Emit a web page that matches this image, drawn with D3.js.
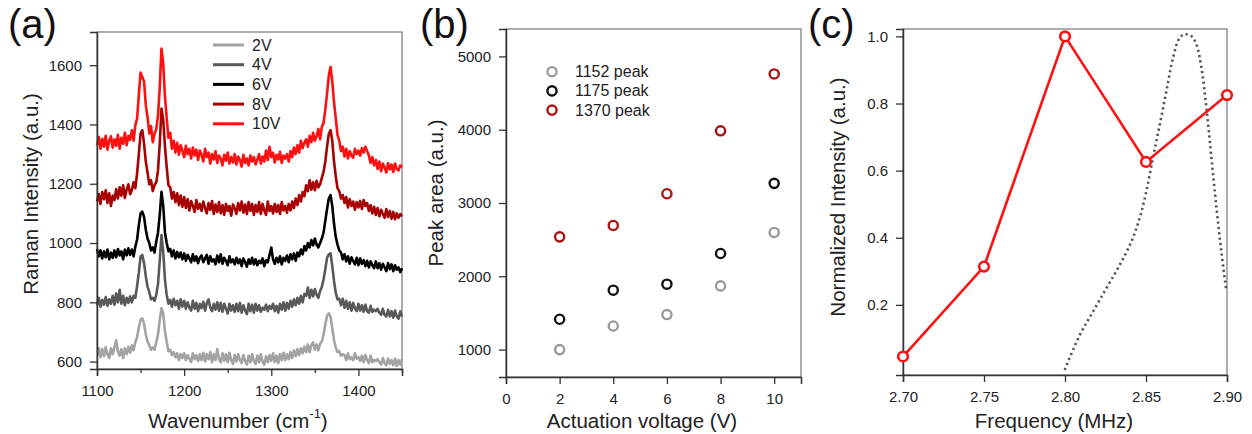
<!DOCTYPE html>
<html>
<head>
<meta charset="utf-8">
<script src="https://cdn.jsdelivr.net/npm/d3@7"></script>
<style>
  html, body { margin: 0; padding: 0; background: #fff; }
  svg { display: block; font-family: "Liberation Sans", Arial, sans-serif; }
</style>
</head>
<body>
<svg id="chart" width="1252" height="434"></svg>
<script>
// ---------------- DATA ----------------
// (a) Raman spectra, wavenumber grid 1100..1450 cm-1, step 2
const wavenumbers = d3.range(1100, 1451, 2);
const spectrumLabels = ["2V", "4V", "6V", "8V", "10V"];
const s2V = [
 620,645,615,642,618,648,625,612,645,625,
 648,672,635,620,642,612,645,625,650,630,
 655,638,665,682,715,742,746,728,692,668,
 655,640,648,640,665,692,740,780,762,702,
 665,635,640,622,632,615,628,605,625,612,
 628,605,622,610,598,628,608,622,602,625,
 605,630,600,625,608,632,598,625,605,642,
 608,598,628,602,625,598,630,605,592,622,
 600,625,605,595,622,602,590,620,598,625,
 602,592,620,598,625,600,590,618,598,622,
 602,628,598,620,595,625,605,630,605,625,
 608,632,612,638,618,642,622,645,628,650,
 632,658,632,655,665,640,658,638,660,668,
 692,725,755,763,752,712,672,648,632,635,
 620,625,622,605,628,608,615,605,628,610,
 615,602,620,598,622,605,595,620,598,605,
 602,608,598,590,612,595,588,610,592,605,
 588,610,585,605,590,608];
const s4V = [
 790,815,785,808,792,818,788,810,795,822,
 792,830,800,842,795,822,790,815,798,820,
 800,822,815,855,900,955,960,932,888,852,
 835,810,815,805,825,862,940,1027,972,875,
 825,795,808,785,812,790,805,778,810,785,
 805,778,800,782,772,805,778,798,770,795,
 780,802,772,798,810,782,770,795,775,800,
 772,798,768,795,778,762,795,772,790,768,
 795,770,798,765,790,772,760,795,770,792,
 765,795,772,790,768,782,775,792,770,788,
 778,795,770,788,765,795,775,800,772,798,
 778,805,785,810,790,815,795,822,800,828,
 822,850,815,842,820,845,825,815,838,852,
 878,912,950,962,965,922,872,832,810,812,
 790,812,782,805,778,800,772,798,780,770,
 795,772,790,768,792,770,765,788,768,775,
 770,778,765,758,778,758,752,775,752,770,
 748,772,752,745,770,752];
const s6V = [
 980,955,975,948,972,952,978,945,968,950,
 975,952,980,958,972,945,978,958,982,960,
 978,955,988,1012,1060,1100,1106,1088,1045,1015,
 1000,975,985,968,1005,1035,1095,1173,1125,1035,
 1000,972,980,955,975,948,970,952,968,945,
 965,940,960,948,935,962,940,955,932,950,
 958,935,948,960,930,955,938,945,928,958,
 935,962,930,950,940,925,955,935,945,928,
 950,932,945,922,948,935,920,945,930,950,
 928,945,925,940,932,948,922,942,935,960,
 985,945,930,950,935,955,928,950,940,958,
 935,962,945,965,940,968,955,978,962,990,
 975,1000,985,1010,992,1015,995,985,1000,1015,
 1035,1075,1115,1150,1162,1125,1065,1020,995,975,
 968,945,962,938,955,930,952,940,928,950,
 925,948,930,942,922,940,918,938,925,915,
 938,915,932,910,930,918,905,932,912,928,
 905,925,910,918,902,915];
const s8V = [
 1140,1165,1132,1172,1148,1178,1135,1168,1125,1160,
 1145,1182,1150,1188,1160,1195,1152,1180,1198,1165,
 1178,1205,1185,1235,1300,1370,1381,1335,1275,1238,
 1198,1212,1175,1195,1205,1245,1335,1454,1415,1325,
 1255,1195,1188,1150,1172,1138,1168,1128,1160,1122,
 1155,1118,1148,1110,1142,1125,1105,1145,1115,1132,
 1108,1140,1118,1100,1135,1112,1142,1098,1130,1105,
 1138,1100,1128,1095,1132,1108,1125,1092,1130,1118,
 1098,1135,1110,1140,1102,1130,1098,1138,1108,1132,
 1095,1128,1105,1138,1098,1132,1110,1095,1140,1108,
 1125,1100,1132,1105,1128,1098,1138,1110,1125,1102,
 1132,1110,1140,1118,1150,1128,1162,1140,1172,1158,
 1195,1175,1212,1180,1205,1178,1210,1188,1198,1220,
 1240,1275,1325,1368,1381,1345,1275,1225,1185,1175,
 1150,1162,1135,1155,1120,1148,1125,1140,1112,1138,
 1120,1142,1115,1145,1125,1135,1108,1128,1100,1122,
 1095,1118,1090,1112,1098,1085,1115,1088,1108,1082,
 1105,1080,1100,1085,1098,1090];
const s10V = [
 1330,1358,1318,1352,1325,1362,1315,1345,1360,1322,
 1350,1328,1365,1318,1355,1335,1372,1330,1362,1348,
 1380,1345,1398,1420,1500,1575,1560,1545,1465,1425,
 1370,1395,1340,1368,1385,1430,1525,1656,1605,1495,
 1420,1355,1372,1318,1345,1305,1338,1298,1330,1312,
 1290,1328,1300,1318,1285,1322,1295,1315,1280,1312,
 1298,1275,1318,1290,1305,1268,1300,1282,1310,1270,
 1295,1285,1262,1298,1278,1305,1268,1290,1272,1300,
 1265,1292,1280,1258,1298,1270,1285,1262,1295,1275,
 1290,1265,1282,1300,1268,1292,1275,1312,1280,1325,
 1290,1305,1272,1298,1282,1308,1270,1295,1285,1300,
 1275,1310,1290,1322,1300,1330,1305,1345,1320,1338,
 1350,1325,1362,1340,1372,1345,1360,1385,1350,1392,
 1405,1450,1505,1565,1594,1545,1475,1420,1365,1345,
 1310,1325,1292,1318,1285,1310,1295,1288,1318,1300,
 1312,1295,1320,1305,1325,1310,1295,1270,1290,1262,
 1280,1250,1275,1242,1268,1255,1238,1270,1248,1265,
 1240,1268,1250,1245,1262,1255];
const aXTicks = [1100, 1200, 1300, 1400];
const aXMinor = [1150, 1250, 1350, 1450];
const aYTicks = [600, 800, 1000, 1200, 1400, 1600];

// (b) Peak areas vs actuation voltage
const voltages = [2, 4, 6, 8, 10];
const peak1152 = [1000, 1322, 1478, 1869, 2598];
const peak1175 = [1414, 1810, 1892, 2311, 3268];
const peak1370 = [2538, 2694, 3126, 3985, 4761];
const peakLabels = ["1152 peak", "1175 peak", "1370 peak"];
const bXTicks = [0, 2, 4, 6, 8, 10];
const bYTicks = [1000, 2000, 3000, 4000, 5000];

// (c) Normalized intensity vs frequency
const frequencies = [2.70, 2.75, 2.80, 2.85, 2.90];
const normIntensity = [0.046, 0.314, 1.0, 0.626, 0.825];
const respFreq = [2.7998, 2.8091, 2.8173, 2.8256, 2.8338, 2.8410, 2.8461, 2.8502, 2.8543, 2.8585,
                  2.8626, 2.8667, 2.8708, 2.8739, 2.8780, 2.8811, 2.8842, 2.8873, 2.8904, 2.8935, 2.8965, 2.8996];
const respValue = [0.006, 0.110, 0.180, 0.250, 0.319, 0.389, 0.459, 0.538, 0.638, 0.737,
                   0.837, 0.936, 0.996, 1.006, 1.001, 0.976, 0.907, 0.787, 0.638, 0.489, 0.359, 0.240];
const cXTicks = [2.70, 2.75, 2.80, 2.85, 2.90];
const cYTicks = [0.2, 0.4, 0.6, 0.8, 1.0];

// ---------------- STYLE ----------------
const spectrumColors = ["#a3a3a3", "#595959", "#000000", "#a80000", "#ff1010"];
const peakColors = ["#9a9a9a", "#111111", "#a81414"];
const axisColor = "#333";
const frameColor = "#777";
const textColor = "#222";

const svg = d3.select("#chart");

function styleAxis(g) {
  g.selectAll("path.domain").attr("stroke", axisColor).attr("stroke-width", 1.5);
  g.selectAll(".tick line").attr("stroke", axisColor).attr("stroke-width", 1.3);
  g.selectAll(".tick text").attr("fill", textColor).style("font-size", "15px")
    .style("font-family", '"Liberation Sans", Arial, sans-serif');
}

function frame(x0, y0, x1, y1) {
  svg.append("rect").attr("x", x0).attr("y", y0).attr("width", x1 - x0).attr("height", y1 - y0)
    .attr("fill", "none").attr("stroke", frameColor).attr("stroke-width", 1.2);
}

function panelLabel(txt, x) {
  svg.append("text").attr("x", x).attr("y", 38).attr("fill", "#111")
    .style("font-size", "40px").text(txt);
}

// ---------------- PANEL (a) ----------------
{
  const L = 97, R = 402, T = 32, B = 369;
  const x = d3.scaleLinear().domain([1100, 1450]).range([L, R]);
  const y = d3.scaleLinear().domain([575, 1712]).range([B, T]);
  frame(L, T, R, B);
  const series = [s2V, s4V, s6V, s8V, s10V];
  const line = d3.line().x((d, i) => x(wavenumbers[i])).y(d => y(d));
  series.forEach((s, k) => {
    svg.append("path").datum(s).attr("d", line).attr("fill", "none")
      .attr("stroke", spectrumColors[k]).attr("stroke-width", 2.6).attr("stroke-linejoin", "round");
  });
  const gx = svg.append("g").attr("transform", `translate(0,${B})`)
    .call(d3.axisBottom(x).tickValues(aXTicks).tickFormat(d3.format("d")).tickSize(7).tickPadding(9));
  styleAxis(gx);
  svg.append("g").attr("transform", `translate(0,${B})`)
    .call(d3.axisBottom(x).tickValues(aXMinor).tickFormat("").tickSize(4))
    .call(g => { g.select(".domain").remove(); g.selectAll("line").attr("stroke", axisColor).attr("stroke-width", 1.3); });
  const gy = svg.append("g").attr("transform", `translate(${L},0)`)
    .call(d3.axisLeft(y).tickValues(aYTicks).tickFormat(d3.format("d")).tickSize(7).tickPadding(8));
  styleAxis(gy);

  // legend
  spectrumLabels.forEach((lab, k) => {
    const yy = 45 + k * 19.7;
    svg.append("line").attr("x1", 213).attr("x2", 244).attr("y1", yy).attr("y2", yy)
      .attr("stroke", spectrumColors[k]).attr("stroke-width", 3);
    svg.append("text").attr("x", 252).attr("y", yy + 5.5).attr("fill", textColor)
      .style("font-size", "16px").text(lab);
  });

  svg.append("text").attr("transform", `translate(38,194) rotate(-90)`).attr("text-anchor", "middle")
    .attr("fill", textColor).style("font-size", "20.5px").text("Raman Intensity (a.u.)");
  const xt = svg.append("text").attr("x", 238).attr("y", 428).attr("text-anchor", "middle")
    .attr("fill", textColor).style("font-size", "20.5px");
  xt.append("tspan").text("Wavenumber (cm");
  xt.append("tspan").attr("dy", -10).style("font-size", "13px").text("-1");
  xt.append("tspan").attr("dy", 10).text(")");
  panelLabel("(a)", 8);
}

// ---------------- PANEL (b) ----------------
{
  const L = 506, R = 801, T = 29, B = 377;
  const x = d3.scaleLinear().domain([0, 11]).range([L, R]);
  const y = d3.scaleLinear().domain([626, 5374]).range([B, T]);
  frame(L, T, R, B);
  const gx = svg.append("g").attr("transform", `translate(0,${B})`)
    .call(d3.axisBottom(x).tickValues(bXTicks).tickFormat(d3.format("d")).tickSize(7).tickPadding(9));
  styleAxis(gx);
  const gy = svg.append("g").attr("transform", `translate(${L},0)`)
    .call(d3.axisLeft(y).tickValues(bYTicks).tickFormat(d3.format("d")).tickSize(7).tickPadding(8));
  styleAxis(gy);
  const sets = [peak1152, peak1175, peak1370];
  sets.forEach((vals, k) => {
    svg.append("g").selectAll("circle").data(vals).join("circle")
      .attr("cx", (d, i) => x(voltages[i])).attr("cy", d => y(d)).attr("r", 4.6)
      .attr("fill", "#fff").attr("stroke", peakColors[k]).attr("stroke-width", 2.4);
  });
  peakLabels.forEach((lab, k) => {
    const yy = 71.7 + k * 19.2;
    svg.append("circle").attr("cx", 552).attr("cy", yy).attr("r", 4.6)
      .attr("fill", "#fff").attr("stroke", peakColors[k]).attr("stroke-width", 2.4);
    svg.append("text").attr("x", 575).attr("y", yy + 5.5).attr("fill", textColor)
      .style("font-size", "16px").text(lab);
  });
  svg.append("text").attr("transform", `translate(443,193) rotate(-90)`).attr("text-anchor", "middle")
    .attr("fill", textColor).style("font-size", "20.5px").text("Peak area (a.u.)");
  svg.append("text").attr("x", 642).attr("y", 428).attr("text-anchor", "middle")
    .attr("fill", textColor).style("font-size", "20.5px").text("Actuation voltage (V)");
  panelLabel("(b)", 420);
}

// ---------------- PANEL (c) ----------------
{
  const L = 903, R = 1227, T = 29, B = 375;
  const x = d3.scaleLinear().domain([2.70, 2.90]).range([L, R]);
  const y = d3.scaleLinear().domain([-0.009, 1.022]).range([B, T]);
  frame(L, T, R, B);
  const gx = svg.append("g").attr("transform", `translate(0,${B})`)
    .call(d3.axisBottom(x).tickValues(cXTicks).tickFormat(d3.format(".2f")).tickSize(7).tickPadding(9));
  styleAxis(gx);
  const gy = svg.append("g").attr("transform", `translate(${L},0)`)
    .call(d3.axisLeft(y).tickValues(cYTicks).tickFormat(d3.format(".1f")).tickSize(7).tickPadding(8));
  styleAxis(gy);

  const resp = respFreq.map((f, i) => [f, respValue[i]]);
  svg.append("path").datum(resp)
    .attr("d", d3.line().x(d => x(d[0])).y(d => y(d[1])).curve(d3.curveCatmullRom))
    .attr("fill", "none").attr("stroke", "#555").attr("stroke-width", 2.6)
    .attr("stroke-dasharray", "2.2,3.2");

  const pts = frequencies.map((f, i) => [f, normIntensity[i]]);
  svg.append("path").datum(pts)
    .attr("d", d3.line().x(d => x(d[0])).y(d => y(d[1])))
    .attr("fill", "none").attr("stroke", "#ff1010").attr("stroke-width", 2.6);
  svg.append("g").selectAll("circle").data(pts).join("circle")
    .attr("cx", d => x(d[0])).attr("cy", d => y(d[1])).attr("r", 4.8)
    .attr("fill", "#fff").attr("stroke", "#ff1010").attr("stroke-width", 2.6);

  svg.append("text").attr("transform", `translate(845,197) rotate(-90)`).attr("text-anchor", "middle")
    .attr("fill", textColor).style("font-size", "20.5px").text("Normalized Intensity (a.u.)");
  svg.append("text").attr("x", 1054).attr("y", 428).attr("text-anchor", "middle")
    .attr("fill", textColor).style("font-size", "20.5px").text("Frequency (MHz)");
  panelLabel("(c)", 808);
}
</script>
</body>
</html>
